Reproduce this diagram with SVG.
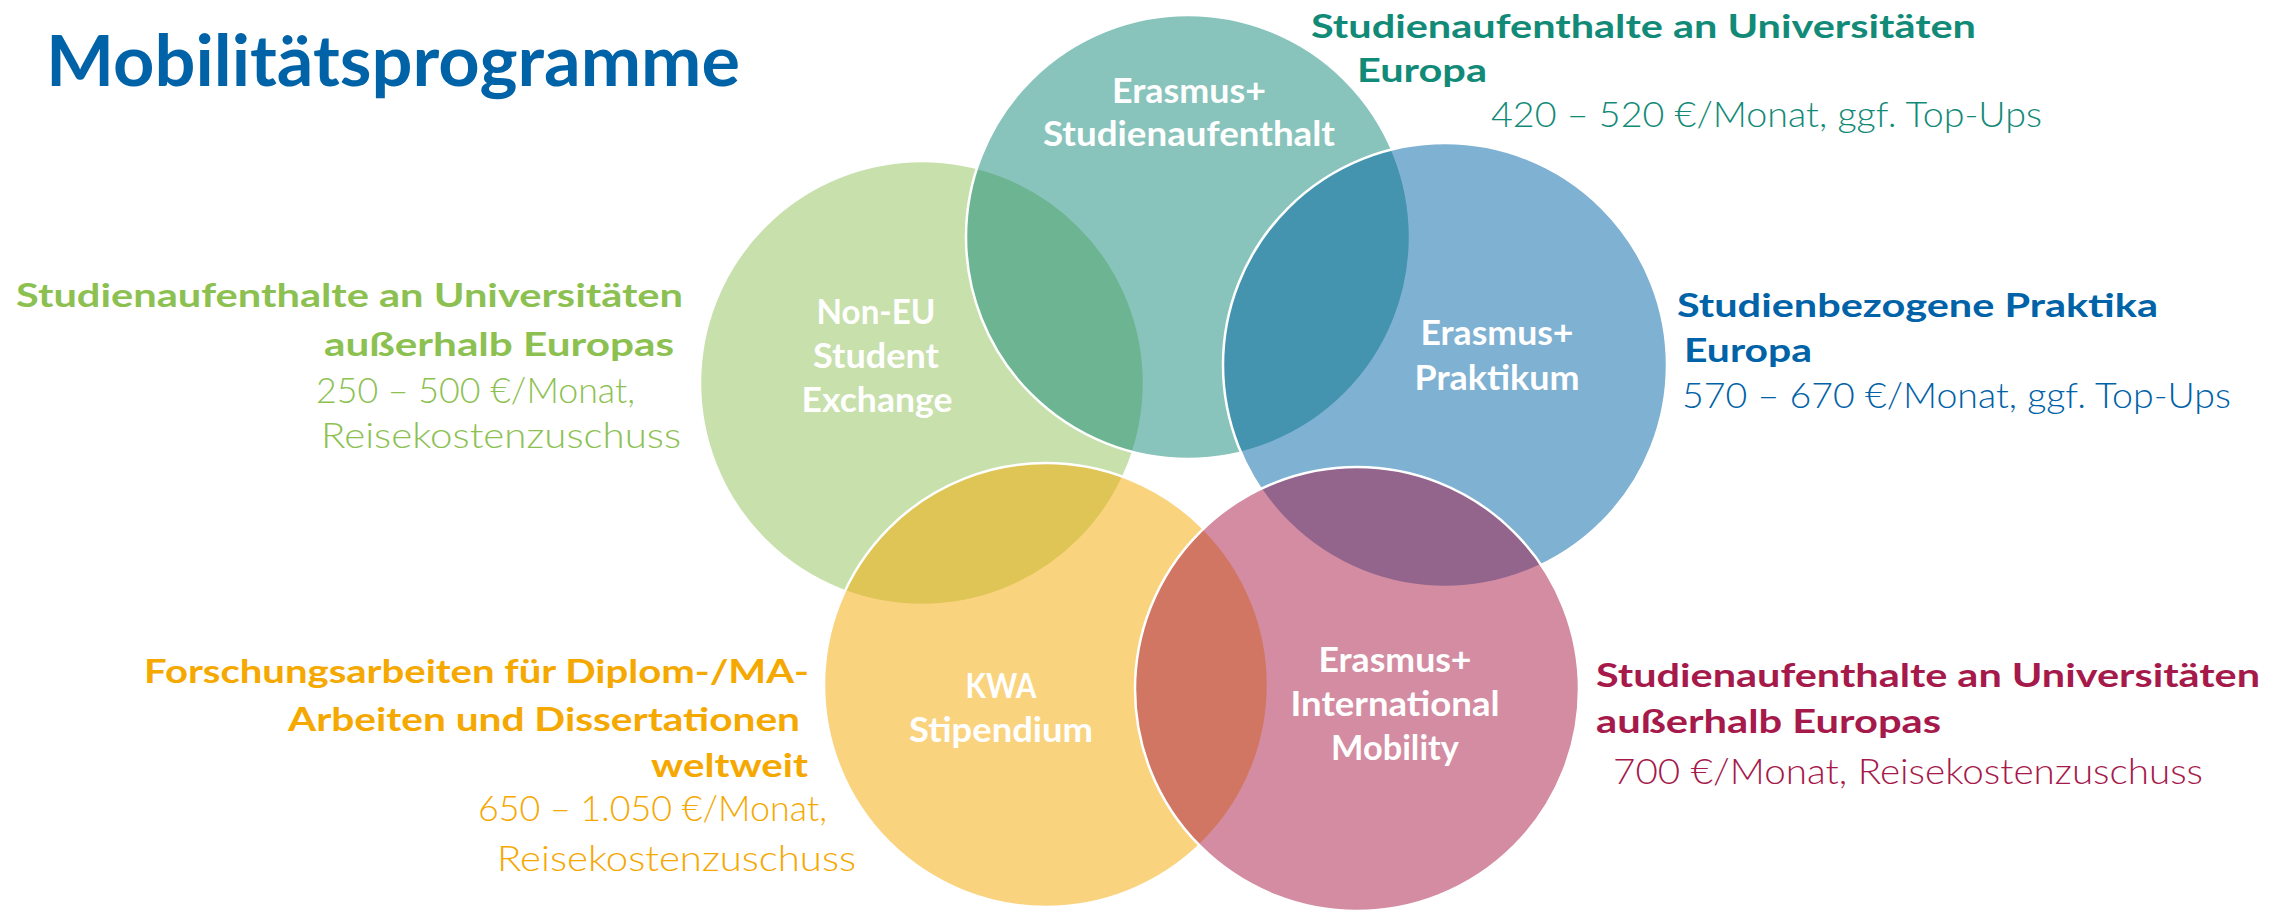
<svg xmlns="http://www.w3.org/2000/svg" width="2284" height="917" viewBox="0 0 2284 917">
<style>
.c{fill-opacity:0.5;stroke:#ffffff;stroke-width:2.5}
.lbl{font-family:Lato,"Liberation Sans",sans-serif;font-weight:700;font-size:34px;fill:#ffffff;text-anchor:middle}
.hb{font-family:Lato,"Liberation Sans",sans-serif;font-weight:700;font-size:33px}
.hl{font-family:Lato,"Liberation Sans",sans-serif;font-weight:300;font-size:36px}
.teal{fill:#128a78}.green{fill:#8cc152}.blue{fill:#0062a7}.yellow{fill:#f5a800}.pink{fill:#a6194b}
</style>
<rect width="2284" height="917" fill="#ffffff"/>
<text x="46" y="86" font-family="Lato,'Liberation Sans',sans-serif" font-weight="700" font-size="70" fill="#0062a7" textLength="694" lengthAdjust="spacingAndGlyphs">Mobilitätsprogramme</text>

<g id="non-eu">
<circle class="c" cx="922" cy="383" r="222" fill="#92c15a"/>
</g>
<g id="erasmus-studium">
<circle class="c" cx="1188" cy="237" r="222" fill="#128a78"/>
</g>
<g id="erasmus-praktikum">
<circle class="c" cx="1445" cy="365" r="222" fill="#0063a6"/>
</g>
<g id="kwa">
<circle class="c" cx="1046" cy="685" r="222" fill="#f5a800"/>
</g>
<g id="erasmus-international">
<circle class="c" cx="1357" cy="689" r="222" fill="#a81946"/>
</g>

<g id="labels">
<text class="lbl" x="1189" y="103" textLength="154" lengthAdjust="spacingAndGlyphs">Erasmus+</text>
<text class="lbl" x="1189" y="146" textLength="292" lengthAdjust="spacingAndGlyphs">Studienaufenthalt</text>
<text class="lbl" x="876" y="324" textLength="119" lengthAdjust="spacingAndGlyphs">Non-EU</text>
<text class="lbl" x="876" y="368" textLength="126" lengthAdjust="spacingAndGlyphs">Student</text>
<text class="lbl" x="877" y="412" textLength="151" lengthAdjust="spacingAndGlyphs">Exchange</text>
<text class="lbl" x="1497" y="345" textLength="153" lengthAdjust="spacingAndGlyphs">Erasmus+</text>
<text class="lbl" x="1497" y="390" textLength="165" lengthAdjust="spacingAndGlyphs">Praktikum</text>
<text class="lbl" x="1001" y="698" textLength="71" lengthAdjust="spacingAndGlyphs">KWA</text>
<text class="lbl" x="1001" y="742" textLength="184" lengthAdjust="spacingAndGlyphs">Stipendium</text>
<text class="lbl" x="1395" y="672" textLength="153" lengthAdjust="spacingAndGlyphs">Erasmus+</text>
<text class="lbl" x="1395" y="716" textLength="209" lengthAdjust="spacingAndGlyphs">International</text>
<text class="lbl" x="1395" y="760" textLength="128" lengthAdjust="spacingAndGlyphs">Mobility</text>
</g>

<g id="info-teal" class="teal">
<text class="hb" x="1311" y="38" textLength="665" lengthAdjust="spacingAndGlyphs">Studienaufenthalte an Universitäten</text>
<text class="hb" x="1357" y="82" textLength="130" lengthAdjust="spacingAndGlyphs">Europa</text>
<text class="hl" x="1491" y="127" textLength="551" lengthAdjust="spacingAndGlyphs">420 – 520 €/Monat, ggf. Top-Ups</text>
</g>
<g id="info-green" class="green">
<text class="hb" x="16" y="307" textLength="667" lengthAdjust="spacingAndGlyphs">Studienaufenthalte an Universitäten</text>
<text class="hb" x="324" y="356" textLength="350" lengthAdjust="spacingAndGlyphs">außerhalb Europas</text>
<text class="hl" x="316" y="403" textLength="319" lengthAdjust="spacingAndGlyphs">250 – 500 €/Monat,</text>
<text class="hl" x="321" y="448" textLength="360" lengthAdjust="spacingAndGlyphs">Reisekostenzuschuss</text>
</g>
<g id="info-blue" class="blue">
<text class="hb" x="1677" y="317" textLength="481" lengthAdjust="spacingAndGlyphs">Studienbezogene Praktika</text>
<text class="hb" x="1684" y="362" textLength="128" lengthAdjust="spacingAndGlyphs">Europa</text>
<text class="hl" x="1682" y="408" textLength="549" lengthAdjust="spacingAndGlyphs">570 – 670 €/Monat, ggf. Top-Ups</text>
</g>
<g id="info-yellow" class="yellow">
<text class="hb" x="144" y="683" textLength="665" lengthAdjust="spacingAndGlyphs">Forschungsarbeiten für Diplom-/MA-</text>
<text class="hb" x="288" y="731" textLength="512" lengthAdjust="spacingAndGlyphs">Arbeiten und Dissertationen</text>
<text class="hb" x="651" y="777" textLength="157" lengthAdjust="spacingAndGlyphs">weltweit</text>
<text class="hl" x="478" y="821" textLength="349" lengthAdjust="spacingAndGlyphs">650 – 1.050 €/Monat,</text>
<text class="hl" x="497" y="871" textLength="359" lengthAdjust="spacingAndGlyphs">Reisekostenzuschuss</text>
</g>
<g id="info-pink" class="pink">
<text class="hb" x="1596" y="687" textLength="664" lengthAdjust="spacingAndGlyphs">Studienaufenthalte an Universitäten</text>
<text class="hb" x="1596" y="733" textLength="345" lengthAdjust="spacingAndGlyphs">außerhalb Europas</text>
<text class="hl" x="1613" y="784" textLength="590" lengthAdjust="spacingAndGlyphs">700 €/Monat, Reisekostenzuschuss</text>
</g>
<g id="connectors"></g>
</svg>
